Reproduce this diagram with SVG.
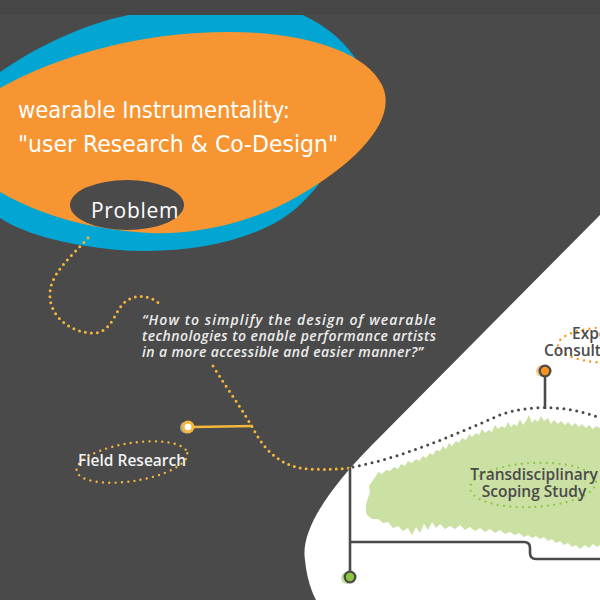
<svg xmlns="http://www.w3.org/2000/svg" width="600" height="600" viewBox="0 0 600 600">
<defs>
<style>
.dotY{fill:none;stroke:#f5b73b;stroke-width:3;stroke-linecap:round;stroke-dasharray:0 6}
.dotG{fill:none;stroke:#4a4a4a;stroke-width:3;stroke-linecap:round;stroke-dasharray:0 6.5}
.line{fill:none;stroke:#4a4a4a;stroke-width:2.6;stroke-linejoin:round}
.lbl{font-family:"Open Sans","Noto Sans",sans-serif;font-weight:600;font-size:15.5px}
.title{font-family:"DejaVu Sans","Noto Sans",sans-serif;font-size:23px;fill:#ffffff}
.quote{font-family:"Open Sans","Noto Sans",sans-serif;font-style:italic;font-weight:600;font-size:14px;fill:#ececec}
</style>
<clipPath id="topclip"><rect x="0" y="15" width="600" height="585"/></clipPath>
</defs>
<rect x="0" y="0" width="600" height="600" fill="#4a4a4a"/>
<rect x="0" y="0" width="600" height="15" fill="#464646"/>
<path d="M600,215 L370,447 C330,488 300,530 305,560 C307,580 312,592 316,600 L600,600 Z" fill="#ffffff"/>

<g id="title-node">
<path clip-path="url(#topclip)" d="M0,72 C50,38 110,12 170,10 L290,10 C320,20 345,40 360,65 C375,100 330,190 280,220 C230,250 150,258 80,245 C40,238 15,228 0,218 Z" fill="#03a5d2"/>
<path d="M0,88 C60,55 140,32 230,32 C300,32 365,50 382,85 C398,118 360,160 300,195 C250,225 190,235 150,233 C90,230 40,215 0,192 Z" fill="#f69532"/>
<text class="title" x="18" y="118" textLength="272" lengthAdjust="spacingAndGlyphs">wearable Instrumentality:</text>
<text class="title" x="18" y="152" textLength="320" lengthAdjust="spacingAndGlyphs">"user Research &amp; Co-Design"</text>
</g>

<g id="problem-node">
<ellipse cx="127" cy="205" rx="57" ry="25" fill="#4a4a4a"/>
<text x="91" y="218" font-family="'Open Sans','Noto Sans',sans-serif" font-weight="500" font-size="21" letter-spacing="0.7" fill="#ffffff">Problem</text>
</g>

<g id="question-node">
<text class="quote" x="142" y="325" textLength="294" lengthAdjust="spacing">“How to simplify the design of wearable</text>
<text class="quote" x="142" y="341" textLength="294" lengthAdjust="spacing">technologies to enable performance artists</text>
<text class="quote" x="142" y="357" textLength="281" lengthAdjust="spacing">in a more accessible and easier manner?”</text>
</g>

<g id="field-research-node">
<ellipse cx="132" cy="462" rx="56" ry="19" transform="rotate(-9 132 462)" fill="none" stroke="#f5b73b" stroke-width="2.4" stroke-linecap="round" stroke-dasharray="0 6.3"/>
<text class="lbl" x="78" y="466" font-size="14.5" fill="#f2f2f2">Field Research</text>
</g>

<g id="scoping-study-node">
<path fill="#cbe0a3" d="M366,512 L366,505 L368,498 L370,492 L369,486 L373,480 L376,476 L378,472 L382,474 L386,470 L390,471 L394,467 L398,469 L401,464 L405,466 L408,461 L412,463 L416,459 L419,461 L423,456 L426,458 L430,453 L433,455 L436,450 L440,451 L443,446 L446,449 L449,443 L452,446 L456,441 L459,443 L462,438 L466,440 L469,434 L472,437 L476,433 L479,435 L482,429 L485,433 L489,430 L492,432 L495,425 L498,429 L502,426 L505,428 L508,422 L511,427 L514,424 L517,426 L520,419 L523,425 L526,421 L529,415 L532,423 L535,419 L538,422 L541,416 L544,421 L548,418 L551,424 L554,420 L558,424 L561,421 L565,425 L568,422 L572,426 L575,423 L579,427 L582,424 L586,428 L589,425 L593,429 L596,426 L600,428 L600,545 L597,547 L593,544 L589,548 L585,545 L580,549 L576,545 L572,547 L568,543 L564,545 L560,541 L556,543 L552,539 L548,541 L544,537 L540,539 L536,536 L532,538 L528,535 L524,537 L519,533 L515,535 L510,532 L505,534 L500,530 L495,533 L490,529 L485,532 L480,528 L475,531 L470,527 L465,530 L460,525 L455,529 L450,526 L445,529 L440,524 L436,528 L432,522 L428,530 L424,524 L420,533 L416,527 L412,535 L408,528 L403,531 L398,526 L393,528 L388,522 L383,523 L378,519 L372,519 L367,515 Z"/>
<ellipse cx="533" cy="485" rx="63" ry="22" transform="rotate(-3 533 485)" fill="none" stroke="#8cc63f" stroke-width="2.2" stroke-linecap="round" stroke-dasharray="0 6.3"/>
<text class="lbl" x="534" y="480" text-anchor="middle" fill="#4a4a4a">Transdisciplinary</text>
<text class="lbl" x="534" y="497" text-anchor="middle" fill="#4a4a4a">Scoping Study</text>
</g>

<g id="expert-consultation-node">
<ellipse cx="612" cy="345" rx="54" ry="18" fill="none" stroke="#f7941d" stroke-width="2.4" stroke-linecap="round" stroke-dasharray="0 6.3"/>
<text class="lbl" x="572" y="339" fill="#4a4a4a">Expert</text>
<text class="lbl" x="544" y="356" fill="#4a4a4a">Consultation</text>
</g>

<g id="connectors">
<path class="dotY" d="M88,238 C70,258 48,275 50,298 C52,320 75,334 95,333 C112,332 115,310 125,302 C135,294 150,294 162,306"/>
<path class="dotY" d="M213,366 C228,390 243,410 255,432 C268,455 285,468 310,469 C325,470 340,469 350,468"/>
<path class="dotG" d="M353,467 C400,458 450,437 500,415 C530,404 570,405 605,420"/>
<line x1="194" y1="427" x2="253" y2="426" stroke="#f5b73b" stroke-width="2.4"/>
<circle cx="186" cy="427.5" r="6" fill="#f2f2f2" opacity="0.5"/>
<circle cx="188" cy="427" r="6.5" fill="#f5b73b"/>
<circle cx="188" cy="427" r="3.3" fill="#ffffff"/>
<path class="line" d="M350,468 L350,571"/>
<path class="line" d="M350,542 L524,542 Q530,542 530,548 L530,553 Q530,559 536,559 L602,559"/>
<circle cx="347" cy="578" r="6" fill="#8cc63f" opacity="0.5"/>
<circle cx="350" cy="577" r="6.5" fill="#4a4a4a"/>
<circle cx="350" cy="577" r="4.2" fill="#8cc63f"/>
<path class="line" d="M545,409 L545,377"/>
<circle cx="542" cy="371" r="6" fill="#f7941d" opacity="0.5"/>
<circle cx="545" cy="371" r="6.5" fill="#4a4a4a"/>
<circle cx="545" cy="371" r="4.2" fill="#f7941d"/>
</g>
</svg>
